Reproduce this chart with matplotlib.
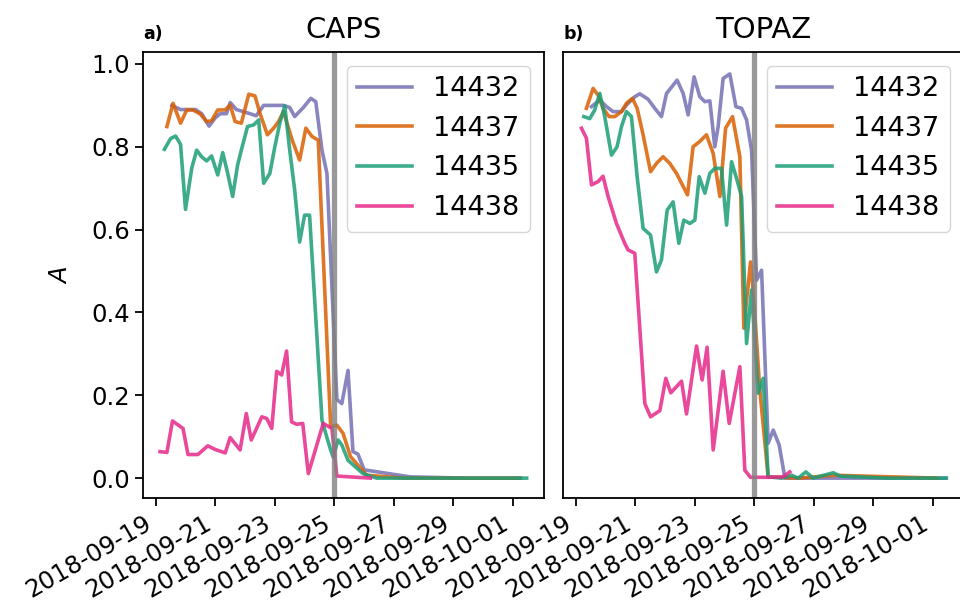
import numpy as np
import pandas as pd
import matplotlib
matplotlib.use("Agg")
import matplotlib.pyplot as plt
import matplotlib.dates as mdates

start = pd.Timestamp("2018-09-19")
event = pd.Timestamp("2018-09-25")
stations = ["14432", "14437", "14435", "14438"]
colors = {"14432": "#7570b3", "14437": "#d95f02", "14435": "#1b9e77", "14438": "#e7298a"}

# hours since 2018-09-19 00:00, values of A
caps_hours = {
    "14432": [13, 20, 32, 37, 43, 48, 52, 57, 60, 65, 76, 81, 87, 103, 108, 112, 119, 125, 129,
              134, 138, 146, 150, 155, 159, 163, 168, 205, 250, 294],
    "14437": [9, 14, 20, 25, 30, 36, 41, 45, 50, 56, 60, 64, 69, 75, 80, 84, 90, 95, 99, 103,
              110, 116, 121, 126, 131, 141, 146, 151, 157, 170, 200, 250, 293],
    "14435": [7, 12, 16, 20, 24, 29, 33, 37, 41, 45, 50, 54, 58, 62, 66, 69, 74, 79, 83, 87, 92,
              96, 100, 104, 108, 112, 116, 120, 124, 134, 137, 141, 143, 147, 150, 155, 161, 167,
              178, 250, 299],
    "14438": [3.5, 9, 13.5, 22, 26, 34, 42, 48, 56, 60, 68, 73, 77, 85.5, 89.5, 93.5, 97.5, 101.5,
              105.5, 109.5, 113.5, 118.5, 123, 135, 142, 146, 173],
}
caps_vals = {
    "14432": [0.90, 0.89, 0.89, 0.88, 0.85, 0.87, 0.88, 0.88, 0.907, 0.89, 0.88, 0.875, 0.90, 0.90,
              0.895, 0.873, 0.895, 0.917, 0.909, 0.792, 0.736, 0.19, 0.18, 0.26, 0.064, 0.058,
              0.02, 0.003, 0.0, 0.0],
    "14437": [0.849, 0.905, 0.857, 0.889, 0.889, 0.879, 0.861, 0.863, 0.889, 0.889, 0.901, 0.861,
              0.857, 0.927, 0.923, 0.881, 0.829, 0.845, 0.861, 0.885, 0.816, 0.768, 0.845, 0.825,
              0.816, 0.124, 0.128, 0.108, 0.052, 0.007, 0.0, 0.0, 0.0],
    "14435": [0.794, 0.820, 0.826, 0.806, 0.649, 0.748, 0.792, 0.776, 0.766, 0.778, 0.732, 0.786,
              0.736, 0.680, 0.756, 0.792, 0.849, 0.853, 0.865, 0.712, 0.736, 0.800, 0.857, 0.899,
              0.792, 0.696, 0.570, 0.635, 0.635, 0.140, 0.108, 0.068, 0.051, 0.092, 0.080, 0.043,
              0.027, 0.011, 0.0, 0.0, 0.0],
    "14438": [0.064, 0.062, 0.138, 0.12, 0.057, 0.057, 0.078, 0.069, 0.061, 0.098, 0.068, 0.156,
              0.092, 0.148, 0.144, 0.12, 0.258, 0.249, 0.307, 0.136, 0.13, 0.132, 0.011, 0.132,
              0.12, 0.005, 0.0],
}

topaz_hours = {
    "14432": [12.7, 19.4, 24.8, 30.1, 36.9, 40.9, 47.6, 51.6, 58.3, 63.7, 69.1, 73.2, 78, 81.7,
              86.6, 90.6, 95.4, 100, 104.1, 108.1, 112.1, 114.8, 118.8, 124.2, 129.1, 133.7, 137.7,
              141.7, 145.8, 149.8, 155.1, 159.2, 164, 168.6, 205, 298],
    "14437": [8.6, 14, 18, 22, 26.9, 31.5, 36.9, 40.9, 45.7, 49.5, 54.3, 60.3, 65.1, 70.4, 75.8,
              81.2, 85.3, 90.1, 94.6, 100, 105.4, 110.8, 116.2, 120.8, 126.4, 132.3, 135.5, 140.9,
              143, 148.4, 155.1, 180.7, 207.6, 291],
    "14435": [6.5, 11.3, 15.3, 19.4, 23.4, 28.8, 33.3, 36.9, 40.9, 44.9, 49.5, 54.3, 60.3, 65.1,
              69.1, 73.7, 78.5, 83.1, 87.1, 92, 96, 99.5, 104.1, 108.1, 112.1, 117.5, 121.6, 125.6,
              129.6, 133.7, 137.7, 141.7, 147.1, 151.1, 155.1, 165.9, 174, 179.3, 185.5, 191.4,
              207.6, 213, 250.6, 298.8],
    "14438": [4.6, 8.6, 12.7, 18, 22, 26.1, 32.8, 39.5, 42.2, 47.6, 55.7, 60.3, 67.8, 72.6, 76.6,
              85.3, 89.3, 97.4, 101.9, 105.9, 110.8, 118.8, 123.7, 132.3, 136.3, 140.9, 156.5,
              167.2, 172.6],
}
topaz_vals = {
    "14432": [0.897, 0.913, 0.897, 0.885, 0.885, 0.901, 0.921, 0.928, 0.915, 0.893, 0.873, 0.929,
              0.947, 0.961, 0.929, 0.877, 0.969, 0.921, 0.909, 0.911, 0.800, 0.849, 0.965, 0.976,
              0.897, 0.893, 0.865, 0.792, 0.478, 0.502, 0.084, 0.116, 0.080, 0.0, 0.0, 0.0],
    "14437": [0.893, 0.941, 0.925, 0.893, 0.873, 0.873, 0.885, 0.905, 0.917, 0.893, 0.829, 0.740,
              0.760, 0.776, 0.760, 0.736, 0.712, 0.684, 0.800, 0.813, 0.829, 0.784, 0.680, 0.845,
              0.873, 0.776, 0.362, 0.522, 0.454, 0.213, 0.003, 0.0, 0.007, 0.0],
    "14435": [0.873, 0.868, 0.889, 0.929, 0.873, 0.780, 0.800, 0.849, 0.885, 0.873, 0.728, 0.603,
              0.587, 0.498, 0.527, 0.647, 0.667, 0.567, 0.623, 0.615, 0.623, 0.728, 0.688, 0.736,
              0.748, 0.748, 0.611, 0.764, 0.724, 0.680, 0.325, 0.454, 0.205, 0.241, 0.003, 0.0,
              0.007, 0.0, 0.015, 0.0, 0.013, 0.005, 0.0, 0.0],
    "14438": [0.845, 0.821, 0.708, 0.716, 0.729, 0.680, 0.615, 0.567, 0.551, 0.543, 0.180, 0.148,
              0.163, 0.241, 0.206, 0.234, 0.155, 0.319, 0.237, 0.316, 0.068, 0.258, 0.132, 0.269,
              0.019, 0.002, 0.002, 0.003, 0.015],
}

panels = [("CAPS", "a)", caps_hours, caps_vals), ("TOPAZ", "b)", topaz_hours, topaz_vals)]
tick_dates = pd.date_range("2018-09-19", "2018-10-01", freq="2D")

plt.rcParams["axes.linewidth"] = 1.3
plt.rcParams["xtick.major.width"] = 1.3
plt.rcParams["ytick.major.width"] = 1.3
plt.rcParams["xtick.major.size"] = 5.8
plt.rcParams["ytick.major.size"] = 5.8

fig = plt.figure(figsize=(9.6, 6.13), dpi=100)
ax1 = fig.add_axes([0.1493, 0.1876, 0.4174, 0.7276])
ax2 = fig.add_axes([0.5868, 0.1876, 0.4174, 0.7276], sharex=ax1, sharey=ax1)

for ax, (name, tag, hours, vals) in zip([ax1, ax2], panels):
    for st in stations:
        t = start + pd.to_timedelta(np.array(hours[st]), unit="h")
        ax.plot(t, vals[st], color=colors[st], lw=2.6, alpha=0.85, label=st)
    ax.axvline(event, color="grey", lw=3.8, alpha=0.8)
    ax.set_title(name, fontsize=21, pad=10)
    ax.text(0.0, 1.02, tag, transform=ax.transAxes, fontsize=12.5, fontweight="bold",
            ha="left", va="bottom")
    ax.legend(loc="upper right", fontsize=19.5)
    ax.tick_params(labelsize=17.5)

ax1.set_xlim(start - pd.Timedelta(hours=10), pd.Timestamp("2018-10-01") + pd.Timedelta(hours=25))
ax1.set_ylim(-0.048, 1.029)
ax1.set_xticks(tick_dates)
ax1.xaxis.set_major_formatter(mdates.DateFormatter("%Y-%m-%d"))
ax1.set_yticks([0.0, 0.2, 0.4, 0.6, 0.8, 1.0])
ax1.set_ylabel("$A$", fontsize=17.5, labelpad=14)
ax2.tick_params(left=False, labelleft=False)

for ax in [ax1, ax2]:
    for lab in ax.get_xticklabels():
        lab.set_rotation(30)
        lab.set_ha("right")

fig.savefig("out.png", dpi=100)
